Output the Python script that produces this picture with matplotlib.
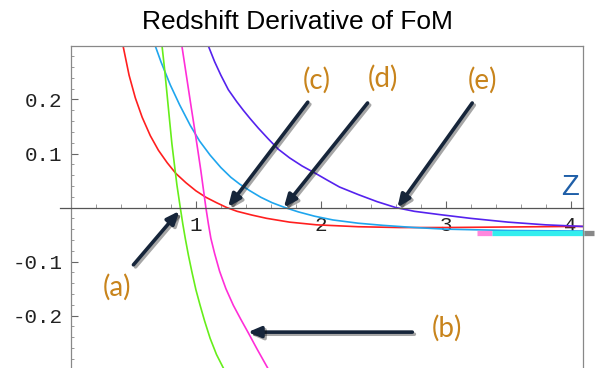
import matplotlib
matplotlib.use("Agg")
import matplotlib.pyplot as plt
import matplotlib.patheffects as pe
from matplotlib.ticker import MultipleLocator, FixedLocator

# curves (z, dFoM/dz)
red_z = [0.417, 0.465, 0.515, 0.57, 0.635, 0.70, 0.77, 0.84, 0.92, 1.0, 1.08, 1.165, 1.247,
         1.33, 1.45, 1.567, 1.75, 1.966, 2.3, 2.63, 3.0, 3.5, 4.0, 4.1]
red_y = [0.299, 0.245, 0.203, 0.167, 0.133, 0.106, 0.083, 0.063, 0.046, 0.031, 0.019, 0.009, 0.0,
         -0.007, -0.014, -0.02, -0.027, -0.032, -0.0355, -0.037, -0.037, -0.036, -0.035, -0.035]

cyan_z = [0.675, 0.72, 0.795, 0.87, 0.955, 1.03, 1.114, 1.2, 1.28, 1.353, 1.433, 1.52, 1.61, 1.713,
          1.82, 1.95, 2.098, 2.3, 2.5, 2.75, 3.0, 3.5, 4.1]
cyan_y = [0.299, 0.27, 0.227, 0.19, 0.152, 0.123, 0.097, 0.074, 0.056, 0.043, 0.031, 0.019, 0.009, 0.0,
          -0.008, -0.016, -0.023, -0.029, -0.033, -0.037, -0.04, -0.0425, -0.0435]

green_z = [0.729, 0.75, 0.769, 0.79, 0.808, 0.83, 0.848, 0.875, 0.895, 0.915, 0.94, 0.968, 1.0,
           1.034, 1.07, 1.114, 1.165, 1.22]
green_y = [0.299, 0.255, 0.21, 0.16, 0.118, 0.076, 0.042, 0.0, -0.03, -0.057, -0.088, -0.119, -0.152,
           -0.181, -0.21, -0.242, -0.272, -0.297]

magenta_z = [0.888, 0.915, 0.94, 0.965, 0.99, 1.015, 1.04, 1.06, 1.08, 1.10, 1.12, 1.15, 1.19, 1.24,
             1.30, 1.36, 1.42, 1.49, 1.575]
magenta_y = [0.299, 0.258, 0.22, 0.182, 0.145, 0.107, 0.068, 0.034, 0.0, -0.03, -0.057, -0.085, -0.118, -0.15,
             -0.181, -0.207, -0.232, -0.262, -0.297]

purple_z = [1.10, 1.15, 1.2, 1.26, 1.327, 1.38, 1.433, 1.5, 1.58, 1.66, 1.75, 1.85, 1.96, 2.05, 2.15,
            2.3, 2.45, 2.6, 2.75, 2.95, 3.2, 3.5, 3.8, 4.1]
purple_y = [0.299, 0.27, 0.245, 0.218, 0.196, 0.18, 0.165, 0.147, 0.127, 0.108, 0.092, 0.077, 0.063, 0.051, 0.038,
            0.024, 0.011, 0.0, -0.007, -0.013, -0.02, -0.027, -0.032, -0.035]

# arrows: (label, label position, arrow tail, arrow head)
arrow_labels = ["(a)", "(b)", "(c)", "(d)", "(e)"]
label_pos = [(0.372, -0.147), (3.014, -0.223), (1.968, 0.236), (2.495, 0.24), (3.293, 0.236)]
arrow_tail = [(0.50, -0.106), (2.733, -0.2306), (1.896, 0.195), (2.375, 0.1935), (3.213, 0.1935)]
arrow_head = [(0.867, -0.0065), (1.417, -0.2306), (1.258, 0.001), (1.704, 0.0), (2.614, 0.0)]

# odd coloured strip at the lower right
strip_z = [(3.25, 3.37), (3.37, 4.11), (4.11, 4.19)]
strip_y = -0.048
strip_colors = ["#ff88dd", "#33eeee", "#888888"]

fig = plt.figure(figsize=(5.95, 3.68), dpi=100)
ax = fig.add_axes([71 / 595, 0, 512 / 595, 322 / 368])
ax.set_xlim(0, 4.1)
ax.set_ylim(-0.297, 0.299)

lw = 1.2
ax.plot(red_z, red_y, color="#ff1f1f", lw=lw)
ax.plot(cyan_z, cyan_y, color="#1fa6ee", lw=lw)
ax.plot(green_z, green_y, color="#66ee1a", lw=lw)
ax.plot(magenta_z, magenta_y, color="#ff2ed8", lw=lw)
ax.plot(purple_z, purple_y, color="#5522ee", lw=lw)

for (z0, z1), c in zip(strip_z, strip_colors):
    ax.plot([z0, z1], [strip_y, strip_y], color=c, lw=3.8, solid_capstyle="butt", clip_on=False)

# frame, Mathematica style
for s in ["left", "top", "right"]:
    ax.spines[s].set_color("#888888")
    ax.spines[s].set_linewidth(0.9)
ax.spines["bottom"].set_position(("data", 0))
ax.spines["bottom"].set_color("#555555")
ax.spines["bottom"].set_linewidth(0.9)
ax.spines["bottom"].set_bounds(-0.09, 4.1)

ax.xaxis.set_major_locator(FixedLocator([1, 2, 3, 4]))
ax.xaxis.set_minor_locator(MultipleLocator(0.2))
ax.yaxis.set_major_locator(FixedLocator([-0.2, -0.1, 0.1, 0.2]))
ax.yaxis.set_minor_locator(MultipleLocator(0.02))
ax.set_xticklabels(["1", "2", "3", "4"])
ax.set_yticklabels(["-0.2", "-0.1", "0.1", "0.2"])

ax.tick_params(axis="x", which="major", direction="in", length=5, width=0.8, color="#666666", pad=6)
ax.tick_params(axis="x", which="minor", direction="in", length=3, width=0.6, color="#888888")
ax.tick_params(axis="y", which="major", direction="in", length=5, width=0.8, color="#666666", pad=6)
ax.tick_params(axis="y", which="minor", direction="in", length=2.5, width=0.6, color="#888888")
for lab in ax.get_xticklabels() + ax.get_yticklabels():
    lab.set_family("Liberation Mono")
    lab.set_fontsize(15)
    lab.set_color("#222222")

ax.text(3.995, 0.038, "Z", color="#1f5fa8", fontsize=21, family="Liberation Sans",
        ha="center", va="center")

shadow = [pe.SimpleLineShadow(offset=(1.5, -1.5), alpha=0.35), pe.Normal()]
for lab, lp, t, h in zip(arrow_labels, label_pos, arrow_tail, arrow_head):
    ax.annotate("", xy=h, xytext=t,
                arrowprops=dict(arrowstyle="-|>,head_length=0.75,head_width=0.32",
                                color="#16253a", lw=2.6, shrinkA=0, shrinkB=0,
                                path_effects=shadow))
    ax.text(lp[0], lp[1], lab, color="#c8841c", fontsize=20, family="Lato",
            ha="center", va="center")

fig.text(297 / 595, 1 - 22 / 368, "Redshift Derivative of FoM", fontsize=19,
         family="Liberation Sans", ha="center", va="center")

fig.savefig("out.png", dpi=100)
